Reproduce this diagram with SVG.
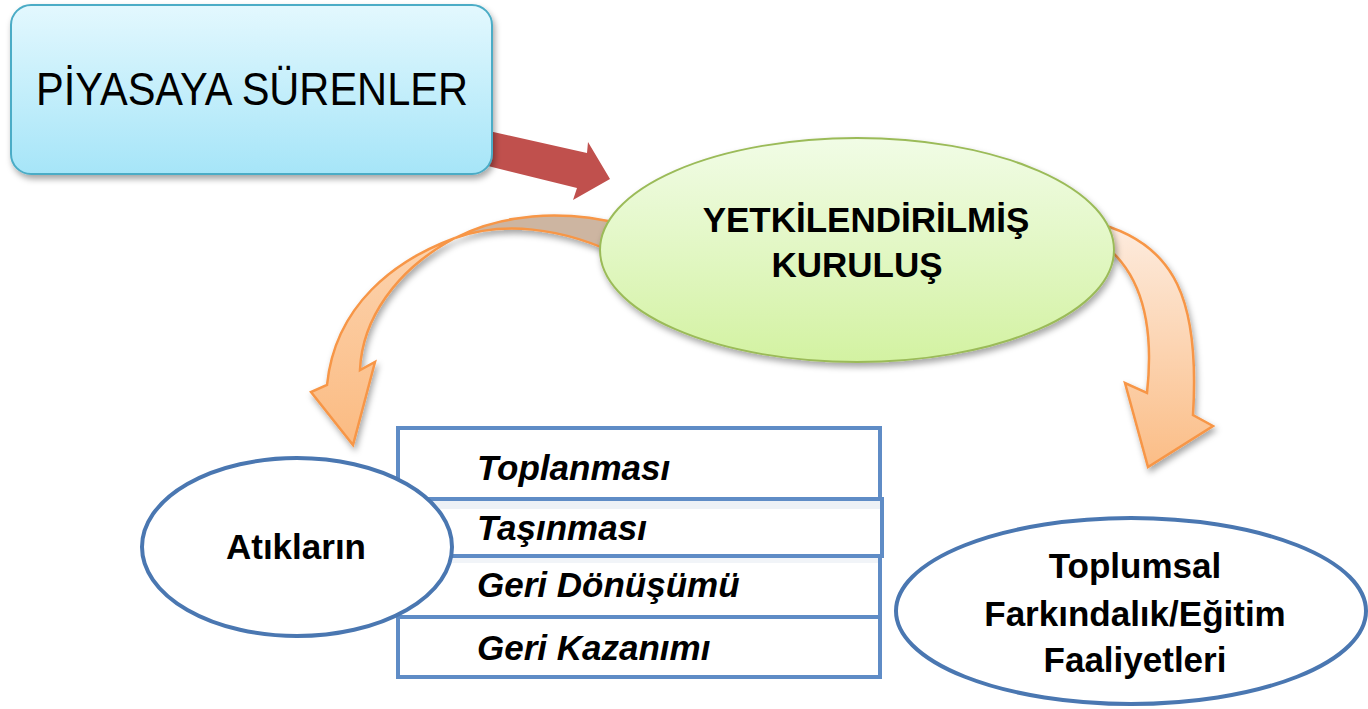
<svg xmlns="http://www.w3.org/2000/svg" width="1368" height="709" viewBox="0 0 1368 709">
<defs>
<linearGradient id="gBlue" x1="0" y1="0" x2="0" y2="1"><stop offset="0" stop-color="#e3f8fe"/><stop offset="1" stop-color="#a6e5f8"/></linearGradient>
<linearGradient id="gGreen" x1="0" y1="0" x2="0" y2="1"><stop offset="0" stop-color="#f1fce6"/><stop offset="1" stop-color="#d3f2a2"/></linearGradient>
<linearGradient id="gOrangeL" x1="0" y1="0" x2="0" y2="1"><stop offset="0" stop-color="#fcd3ae"/><stop offset="1" stop-color="#fbbb82"/></linearGradient>
<linearGradient id="gOrangeR" x1="0" y1="0" x2="0" y2="1"><stop offset="0" stop-color="#fdecdf"/><stop offset="1" stop-color="#fbbd86"/></linearGradient>
<filter id="sh" x="-10%" y="-10%" width="130%" height="130%"><feDropShadow dx="2" dy="4" stdDeviation="3" flood-color="#000" flood-opacity="0.35"/></filter>
<style>
.t{font-family:"Liberation Sans",Arial,sans-serif;fill:#000}
.b{font-weight:bold;font-size:35px}
.bi{font-weight:bold;font-style:italic;font-size:35px}
.row{fill:#fff;stroke:#5f8cc6;stroke-width:4}
.oval{fill:#fff;stroke:#4a77b1;stroke-width:4}
.orange{stroke:#f79646;stroke-width:2.5;stroke-linejoin:miter}
</style>
</defs>
<rect width="1368" height="709" fill="#fff"/>
<g id="connectors">
<polygon points="480,129 587,153 588,142 610,179 573,200 577,188 480,164" fill="#c0504d"/>
<g filter="url(#sh)">
<path class="orange" fill="#cdb5a1" d="M455,238 C500,215 560,208 625,225 L625,258 C560,225 500,222 455,238 Z"/>
<path class="orange" fill="url(#gOrangeL)" d="M455,238 C395,260 335,305 327,385 L311,392 L353,445 L375,362 L360,370 C362,320 395,270 455,238 Z"/>
</g>
<path class="orange" fill="url(#gOrangeR)" filter="url(#sh)" d="M1100,224 C1175,245 1200,300 1193,415 L1213,426 L1148,467 L1125,383 L1147,393 C1155,320 1140,270 1100,242 Z"/>
</g>
<g id="piyasaya">
<rect x="11" y="5" width="481" height="169" rx="20" fill="url(#gBlue)" stroke="#4bacc6" stroke-width="2" filter="url(#sh)"/>
<text class="t" x="252" y="105" font-size="46" text-anchor="middle" textLength="432" lengthAdjust="spacingAndGlyphs">PİYASAYA SÜRENLER</text>
</g>
<g id="yetkili">
<ellipse cx="857" cy="250" rx="257" ry="112" fill="url(#gGreen)" stroke="#9bbb59" stroke-width="2" filter="url(#sh)"/>
<text class="t b" x="866" y="232" text-anchor="middle">YETKİLENDİRİLMİŞ</text>
<text class="t b" x="857" y="277" text-anchor="middle">KURULUŞ</text>
</g>
<g id="islemler">
<rect class="row" x="398" y="428" width="482" height="71"/>
<rect x="400" y="501" width="480" height="8" fill="#edf1f6"/>
<rect class="row" x="400" y="499" width="482" height="57" style="fill:none"/>
<rect x="400" y="558" width="480" height="5" fill="#f1f4f8"/>
<rect class="row" x="398" y="556" width="482" height="61" style="fill:none"/>
<rect class="row" x="398" y="617" width="482" height="60"/>
<text class="t bi" x="477" y="480">Toplanması</text>
<text class="t bi" x="477" y="540">Taşınması</text>
<text class="t bi" x="477" y="597">Geri Dönüşümü</text>
<text class="t bi" x="477" y="660">Geri Kazanımı</text>
</g>
<g id="atiklarin">
<ellipse class="oval" cx="297" cy="547" rx="155" ry="89"/>
<text class="t b" x="296" y="559" text-anchor="middle">Atıkların</text>
</g>
<g id="toplumsal">
<ellipse class="oval" cx="1131" cy="611" rx="235" ry="93"/>
<text class="t b" x="1135" y="578" text-anchor="middle">Toplumsal</text>
<text class="t b" x="1135" y="626" text-anchor="middle">Farkındalık/Eğitim</text>
<text class="t b" x="1135" y="672" text-anchor="middle">Faaliyetleri</text>
</g>
</svg>
